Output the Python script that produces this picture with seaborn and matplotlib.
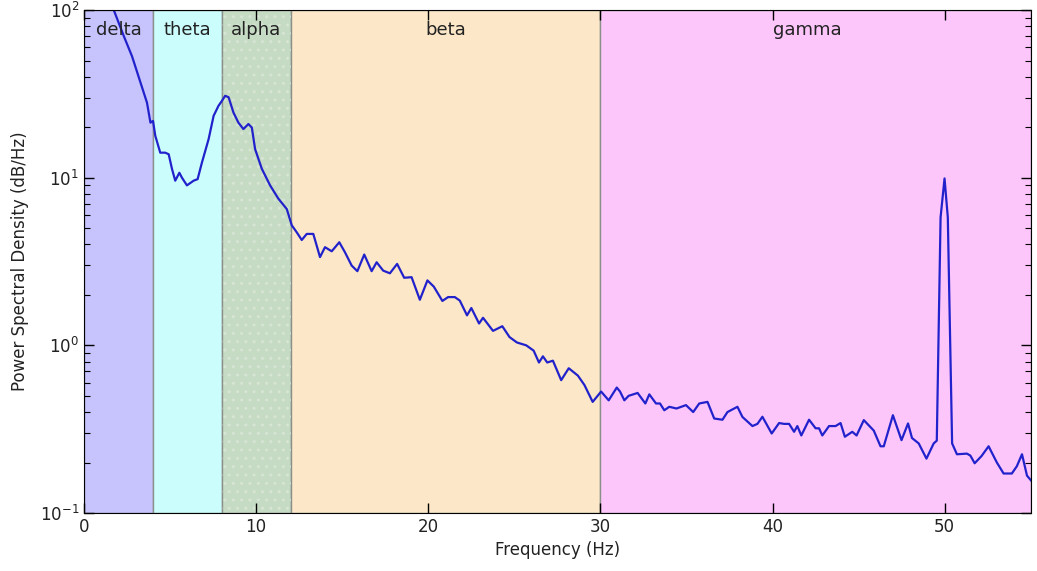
import matplotlib
matplotlib.use("Agg")
import matplotlib.pyplot as plt
import matplotlib.transforms as mtransforms
import seaborn as sns
import numpy as np

# ---- data ----
freqs = [0.0, 0.5, 1.0, 1.5, 1.73, 2.31, 2.79, 3.28, 3.66, 3.86, 4.01, 4.14, 4.43, 4.72, 4.92,
         5.11, 5.30, 5.54, 5.69, 5.98, 6.37, 6.60, 6.85, 7.24, 7.53, 7.81, 8.01, 8.20, 8.40, 8.68,
         8.97, 9.26, 9.55, 9.75, 9.94, 10.33, 10.81, 11.29, 11.78, 12.07, 12.36, 12.65, 12.94, 13.32,
         13.71, 14.00, 14.39, 14.83, 15.16, 15.55, 15.88, 16.28, 16.71, 17.00, 17.38, 17.77, 18.19,
         18.60, 19.03, 19.51, 19.95, 20.32, 20.82, 21.15, 21.54, 21.83, 22.25, 22.50, 22.95, 23.18,
         23.76, 24.30, 24.72, 25.15, 25.69, 26.12, 26.43, 26.66, 26.91, 27.24, 27.72, 28.16, 28.69,
         29.07, 29.55, 30.04, 30.48, 30.95, 31.14, 31.39, 31.64, 32.16, 32.61, 32.84, 33.23, 33.46,
         33.71, 34.00, 34.42, 34.97, 35.39, 35.74, 36.22, 36.61, 37.09, 37.38, 37.96, 38.25, 38.83,
         39.12, 39.41, 39.95, 40.38, 40.67, 40.96, 41.25, 41.44, 41.67, 42.12, 42.50, 42.70, 42.89,
         43.28, 43.66, 43.95, 44.20, 44.63, 44.88, 45.30, 45.88, 46.27, 46.46, 46.99, 47.49, 47.87,
         48.10, 48.49, 48.94, 49.36, 49.54, 49.76, 49.99, 50.18, 50.43, 50.71, 51.29, 51.49, 51.74,
         52.13, 52.55, 53.03, 53.42, 53.90, 54.19, 54.49, 54.78, 55.07]
psd = [400, 260, 180, 125, 100, 70, 53, 37, 28, 21.3, 21.8, 17.8, 14.1, 14.1, 13.8,
       11.3, 9.6, 10.7, 10.0, 9.0, 9.6, 9.8, 12.3, 17.0, 23.4, 26.8, 28.7, 30.8, 30.2, 24.5,
       21.3, 19.5, 20.9, 19.9, 14.8, 11.3, 9.0, 7.5, 6.5, 5.2, 4.72, 4.25, 4.62, 4.62,
       3.36, 3.85, 3.64, 4.12, 3.59, 2.99, 2.77, 3.48, 2.77, 3.13, 2.79, 2.69, 3.06,
       2.53, 2.55, 1.87, 2.44, 2.24, 1.84, 1.94, 1.94, 1.85, 1.51, 1.67, 1.35, 1.46,
       1.22, 1.30, 1.12, 1.04, 1.00, 0.93, 0.79, 0.86, 0.79, 0.81, 0.62, 0.73, 0.66,
       0.58, 0.46, 0.53, 0.47, 0.56, 0.53, 0.47, 0.50, 0.52, 0.45, 0.51, 0.45, 0.45,
       0.41, 0.43, 0.42, 0.44, 0.40, 0.45, 0.46, 0.366, 0.36, 0.40, 0.43, 0.374, 0.33,
       0.34, 0.375, 0.298, 0.344, 0.34, 0.34, 0.305, 0.33, 0.29, 0.36, 0.32, 0.32, 0.29,
       0.33, 0.33, 0.344, 0.285, 0.305, 0.29, 0.358, 0.31, 0.25, 0.25, 0.383, 0.272, 0.342,
       0.28, 0.26, 0.211, 0.26, 0.27, 5.8, 9.9, 5.8, 0.26, 0.224, 0.226, 0.22, 0.198,
       0.218, 0.25, 0.20, 0.172, 0.172, 0.19, 0.224, 0.167, 0.154]

band_names = ["delta", "theta", "alpha", "beta", "gamma"]
band_lo = [0, 4, 8, 12, 30]
band_hi = [4, 8, 12, 30, 55]
band_label_x = [2, 6, 10, 21, 42]
band_colors = ["#c6c3fd", "#ccfdfd", "#c6dbc4", "#fce8c8", "#fdc6fb"]

x_ticks = [0, 10, 20, 30, 40, 50]

# ---- style ----
sns.set_style("ticks", {
    "xtick.direction": "in",
    "ytick.direction": "in",
    "axes.edgecolor": "black",
    "axes.linewidth": 1.0,
})
plt.rcParams["font.family"] = ["DejaVu Sans"]
plt.rcParams["text.color"] = "#222222"
plt.rcParams["axes.labelcolor"] = "#222222"

fig = plt.figure(figsize=(10.37, 5.71), dpi=100)
ax = fig.add_axes([0.081, 0.1016, 0.913, 0.8808])

for name, lo, hi, col in zip(band_names, band_lo, band_hi, band_colors):
    ax.axvspan(lo, hi, facecolor=col, edgecolor="#8a8f8a", lw=1.0, zorder=0)
    if name == "alpha":
        ax.axvspan(lo, hi, facecolor="none", edgecolor="#d6e5d4", hatch="..",
                   lw=0, zorder=0.5)

sns.lineplot(x=freqs, y=psd, ax=ax, color="#2222cc", lw=1.6, zorder=3)

ax.set_yscale("log")
ax.set_xlim(0, 55)
ax.set_ylim(0.1, 100)
ax.set_xticks(x_ticks)

trans = mtransforms.blended_transform_factory(ax.transData, ax.transAxes)
for name, xc in zip(band_names, band_label_x):
    ax.text(xc, 0.96, name, transform=trans, ha="center", va="center",
            fontsize=13, color="#222222", zorder=4)

ax.tick_params(which="both", direction="in", top=True, right=True, labelsize=12,
               colors="black", labelcolor="#222222")
ax.tick_params(which="major", length=7, width=1)
ax.tick_params(which="minor", length=4, width=0.8)
ax.set_axisbelow(False)
ax.set_xlabel("Frequency (Hz)", fontsize=12)
ax.set_ylabel("Power Spectral Density (dB/Hz)", fontsize=12, labelpad=8)
for s in ax.spines.values():
    s.set_zorder(5)

fig.savefig("out.png", dpi=100)
